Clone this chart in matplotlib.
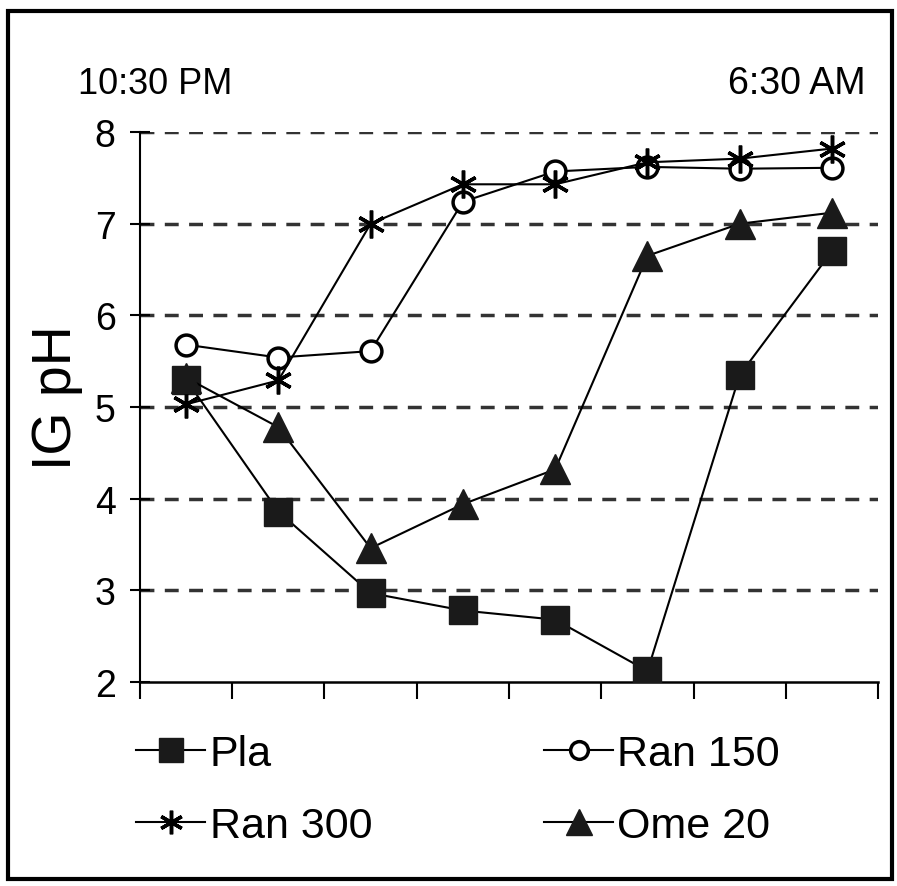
import numpy as np
import matplotlib
matplotlib.use('Agg')
import matplotlib.pyplot as plt
from matplotlib.patches import Rectangle

plt.rcParams['font.family'] = ['Liberation Sans', 'DejaVu Sans']

# eight time points between 10:30 PM and 6:30 AM
x = np.arange(8) + 0.5
pla = [5.3, 3.86, 2.97, 2.78, 2.68, 2.12, 5.35, 6.7]
ran150 = [5.68, 5.54, 5.61, 7.24, 7.57, 7.62, 7.6, 7.61]
ran300 = [5.03, 5.29, 7.0, 7.43, 7.43, 7.67, 7.71, 7.82]
ome20 = [5.32, 4.78, 3.46, 3.94, 4.32, 6.65, 7.0, 7.12]
yticks = [2, 3, 4, 5, 6, 7, 8]

fig = plt.figure(figsize=(8.97, 8.87), dpi=100)
ax = fig.add_axes([0.156, 0.230, 0.823, 0.620])

for v in yticks[1:]:
    ax.axhline(v, color='#333333', lw=2.5, ls=(0, (4, 3)), zorder=1)

kw = dict(color='black', lw=1.5, zorder=3)
l1, = ax.plot(x, pla, marker='s', ms=20, mfc='#1a1a1a', mec='#1a1a1a', label='Pla', **kw)
l2, = ax.plot(x, ran150, marker='o', ms=15, mfc='white', mec='black', mew=2.5, label='Ran 150', **kw)
l3, = ax.plot(x, ran300, marker=(6, 2, 0), ms=20, mec='black', mew=2.5, label='Ran 300', **kw)
l4, = ax.plot(x, ome20, marker='^', ms=22, mfc='#1a1a1a', mec='#1a1a1a', label='Ome 20', **kw)

ax.set_xlim(0, 8)
ax.set_ylim(2, 8)
ax.set_xticks(np.arange(9))
ax.set_xticklabels([])
ax.set_yticks(yticks)
ax.tick_params(axis='x', direction='out', length=12, width=1.5)
ax.tick_params(axis='y', direction='inout', length=15, width=1.5, labelsize=27, pad=10)
for s in ['top', 'right']:
    ax.spines[s].set_visible(False)
ax.spines['left'].set_linewidth(1.5)
ax.spines['bottom'].set_linewidth(1.8)

fig.text(0.064, 0.552, 'IG pH', fontsize=40, rotation=90, va='center', ha='center')

fig.text(0.087, 0.905, '10:30 PM', fontsize=26, va='center', ha='left')
fig.text(0.965, 0.905, '6:30 AM', fontsize=27, va='center', ha='right')

fig.legend([l1, l3, l2, l4], ['Pla', 'Ran 300', 'Ran 150', 'Ome 20'],
           ncol=2, loc='center left', bbox_to_anchor=(0.128, 0.108),
           frameon=False, fontsize=31, handlelength=1.6, handletextpad=0.1,
           columnspacing=4.0, labelspacing=0.75, borderpad=0, markerscale=0.85)

fig.add_artist(Rectangle((0.009, 0.008), 0.985, 0.978, transform=fig.transFigure,
                         fill=False, lw=3, ec='black'))

fig.savefig('out.png', dpi=100)
